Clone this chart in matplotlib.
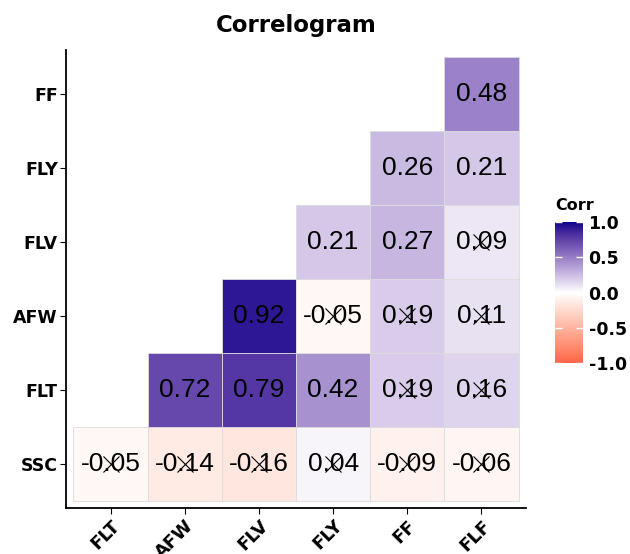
import numpy as np
import matplotlib.pyplot as plt
from matplotlib.colors import ListedColormap, Normalize, to_rgb
from matplotlib.cm import ScalarMappable

# variables (x: columns, y: rows from bottom to top)
x_vars = ["FLT", "AFW", "FLV", "FLY", "FF", "FLF"]
y_vars = ["SSC", "FLT", "AFW", "FLV", "FLY", "FF"]

nan = np.nan
corr = np.array([
    [-0.05, -0.14, -0.16, 0.04, -0.09, -0.06],   # SSC
    [nan, 0.72, 0.79, 0.42, 0.19, 0.16],          # FLT
    [nan, nan, 0.92, -0.05, 0.19, 0.11],          # AFW
    [nan, nan, nan, 0.21, 0.27, 0.09],            # FLV
    [nan, nan, nan, nan, 0.26, 0.21],             # FLY
    [nan, nan, nan, nan, nan, 0.48],              # FF
])

# cells crossed out (not significant)
insig = np.array([
    [1, 1, 1, 1, 1, 1],
    [0, 0, 0, 0, 1, 1],
    [0, 0, 0, 1, 1, 1],
    [0, 0, 0, 0, 0, 1],
    [0, 0, 0, 0, 0, 0],
    [0, 0, 0, 0, 0, 0],
], dtype=bool)

cb_ticks = [-1.0, -0.5, 0.0, 0.5, 1.0]

# --- diverging palette interpolated in Lab like ggplot's gradient2 ---
WHITE_PT = np.array([0.95047, 1.0, 1.08883])
M = np.array([[0.4124, 0.3576, 0.1805],
              [0.2126, 0.7152, 0.0722],
              [0.0193, 0.1192, 0.9505]])
MINV = np.linalg.inv(M)
d = 6 / 29


def to_lab(rgb):
    rgb = np.asarray(rgb, float)
    lin = np.where(rgb <= 0.04045, rgb / 12.92, ((rgb + 0.055) / 1.055) ** 2.4)
    xyz = lin @ M.T / WHITE_PT
    f = np.where(xyz > d ** 3, np.cbrt(xyz), xyz / (3 * d * d) + 4 / 29)
    return np.stack([116 * f[..., 1] - 16,
                     500 * (f[..., 0] - f[..., 1]),
                     200 * (f[..., 1] - f[..., 2])], -1)


def to_rgb_arr(lab):
    fy = (lab[..., 0] + 16) / 116
    fx = fy + lab[..., 1] / 500
    fz = fy - lab[..., 2] / 200
    f = np.stack([fx, fy, fz], -1)
    xyz = np.where(f > d, f ** 3, 3 * d * d * (f - 4 / 29)) * WHITE_PT
    lin = np.clip(xyz @ MINV.T, 0, 1)
    rgb = np.where(lin <= 0.0031308, 12.92 * lin, 1.055 * lin ** (1 / 2.4) - 0.055)
    return np.clip(rgb, 0, 1)


low = to_lab(to_rgb("tomato"))
mid = to_lab(to_rgb("white"))
high = to_lab(to_rgb("darkblue"))
t = np.linspace(-1, 1, 512)[:, None]
lab = np.where(t < 0, mid + (-t) * (low - mid), mid + t * (high - mid))
cmap = ListedColormap(to_rgb_arr(lab))
norm = Normalize(-1, 1)

# --- figure ---
fig = plt.figure(figsize=(6.3, 5.54), dpi=100)
ax = fig.add_axes([66 / 630, 46 / 554, 460 / 630, 458 / 554])

rows, cols = np.where(~np.isnan(corr))
vals = corr[rows, cols]
ax.bar(cols + 1, 1.0, bottom=rows + 0.5, width=1.0, color=cmap(norm(vals)),
       edgecolor="#dcdcdc", linewidth=0.6)

for i, j, v in zip(rows, cols, vals):
    ax.text(j + 1, i + 1, f"{v:.2f}", ha="center", va="center",
            fontsize=19, family="Liberation Sans", color="black")
    if insig[i, j]:
        ax.plot(j + 1, i + 1, marker="x", ms=12, mew=0.8, color="black")

ax.set_xlim(0.4, 6.6)
ax.set_ylim(0.4, 6.6)
ax.set_xticks(np.arange(1, 7))
ax.set_yticks(np.arange(1, 7))
ax.set_xticklabels(x_vars, rotation=45, ha="right", va="top",
                   rotation_mode="anchor", fontweight="bold", fontsize=13)
ax.set_yticklabels(y_vars, fontweight="bold", fontsize=12.5)
ax.tick_params(length=4, width=0.8, color="black", pad=2)
for s in ["top", "right"]:
    ax.spines[s].set_visible(False)
for s in ["left", "bottom"]:
    ax.spines[s].set_linewidth(1.3)

ax.set_title("Correlogram", fontweight="bold", fontsize=16.5, pad=13)

# colorbar
cax = fig.add_axes([555 / 630, 191 / 554, 28 / 630, 141 / 554])
cb = fig.colorbar(ScalarMappable(norm=norm, cmap=cmap), cax=cax, ticks=cb_ticks)
cb.outline.set_visible(False)
cax.set_yticklabels([f"{v:.1f}" for v in cb_ticks], fontweight="bold")
cax.tick_params(direction="in", color="white", length=5, width=1,
                left=True, right=True, labelsize=12.5, pad=4)
fig.text(555 / 630, 1 - 210 / 554, "Corr", ha="left", va="baseline",
         fontweight="bold", fontsize=11.5)

fig.savefig("out.png", dpi=100)
